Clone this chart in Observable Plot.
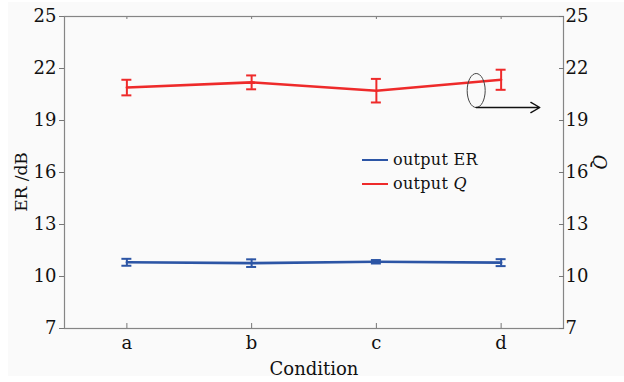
<!DOCTYPE html>
<html><head><meta charset="utf-8">
<script src="https://cdn.jsdelivr.net/npm/d3@7"></script>
<script src="https://cdn.jsdelivr.net/npm/@observablehq/plot@0.6"></script>
<style>
body{margin:0;background:#fff}
#wrap{position:relative;width:624px;height:382px;font-family:"DejaVu Serif",serif;color:#111}
#wrap svg{display:block}
#legend{position:absolute;left:362px;top:148px;font-size:16px;line-height:24px;letter-spacing:0.3px}
#legend .row{display:flex;align-items:center}
#legend .sw{width:26px;height:2.5px;margin-right:5px}
.ylab{position:absolute;white-space:nowrap;transform:translate(-50%,-50%) rotate(-90deg)}
.ylab.right{transform:translate(-50%,-50%) rotate(90deg);font-style:italic}
</style>
</head><body>
<div id="wrap"><div id="chart"></div>
<div class="ylab" style="left:21px;top:182px;font-size:17px">ER /dB</div>
<div class="ylab right" style="left:599px;top:162px;font-size:18px">Q</div>
<div id="legend">
<div class="row"><span class="sw" style="background:#2c55a5"></span><span>output ER</span></div>
<div class="row"><span class="sw" style="background:#ee2a2a"></span><span>output <i>Q</i></span></div>
</div></div>
<script>
const conditions = ["a", "b", "c", "d"];
const erValues = [10.82, 10.77, 10.85, 10.80];
const erErrors = [0.20, 0.22, 0.10, 0.20];
const qValues = [20.90, 21.20, 20.72, 21.35];
const qErrors = [0.45, 0.40, 0.68, 0.58];
const yTicks = [7, 10, 13, 16, 19, 22, 25];
const seriesNames = ["output ER", "output Q"];
const seriesColors = ["#2c55a5", "#ee2a2a"];
// annotation (ellipse around Q line, arrow to right axis), in data units
const ellipseAt = [{x: 3.8, y: 20.73}];
const arrowAt = [{x1: 3.8, x2: 4.31, y: 19.75}];

const rows = [];
conditions.forEach((c, k) => {
  rows.push({i: k + 1, cond: c, value: erValues[k], err: erErrors[k], series: seriesNames[0]});
  rows.push({i: k + 1, cond: c, value: qValues[k], err: qErrors[k], series: seriesNames[1]});
});

const capHalf = 0.04;
const ellipseSymbol = {
  draw(ctx) {
    const rx = 9, ry = 17, k = 0.5523;
    ctx.moveTo(rx, 0);
    ctx.bezierCurveTo(rx, ry * k, rx * k, ry, 0, ry);
    ctx.bezierCurveTo(-rx * k, ry, -rx, ry * k, -rx, 0);
    ctx.bezierCurveTo(-rx, -ry * k, -rx * k, -ry, 0, -ry);
    ctx.bezierCurveTo(rx * k, -ry, rx, -ry * k, rx, 0);
    ctx.closePath();
  }
};

const chart = Plot.plot({
  width: 624,
  height: 382,
  marginLeft: 64,
  marginRight: 61,
  marginTop: 16,
  marginBottom: 54,
  style: {
    fontFamily: "DejaVu Serif",
    fontSize: "18px",
    color: "#111",
    background: "linear-gradient(to right, #fff 0 8px, transparent 8px), linear-gradient(to top, #fff 0 6px, transparent 6px), linear-gradient(to bottom, #fff 0 2px, transparent 2px), #fafafa"
  },
  x: {type: "linear", domain: [0.5, 4.5]},
  y: {domain: [7, 25]},
  color: {domain: seriesNames, range: seriesColors},
  marks: [
    Plot.frame({stroke: "#858585", strokeWidth: 1.2}),
    Plot.axisY({anchor: "left", ticks: yTicks, tickSize: 5, tickPadding: 3, label: null, fontSize: 18, stroke: "#777"}),
    Plot.axisY({anchor: "right", ticks: yTicks, tickSize: -5, tickPadding: 7, label: null, fontSize: 18, stroke: "#777"}),
    Plot.axisX({anchor: "bottom", ticks: [1, 2, 3, 4], tickFormat: d => conditions[d - 1], tickSize: -5, tickPadding: 13, label: null, fontSize: 18, stroke: "#777"}),
    Plot.axisX({anchor: "top", ticks: [1, 2, 3, 4], tickFormat: () => "", tickSize: -2, label: null, stroke: "#777"}),
    Plot.line(rows, {x: "i", y: "value", z: "series", stroke: "series", strokeWidth: 2.6}),
    Plot.ruleX(rows, {x: "i", y1: d => d.value - d.err, y2: d => d.value + d.err, stroke: "series", strokeWidth: 2}),
    Plot.ruleY(rows, {y: d => d.value - d.err, x1: d => d.i - capHalf, x2: d => d.i + capHalf, stroke: "series", strokeWidth: 2}),
    Plot.ruleY(rows, {y: d => d.value + d.err, x1: d => d.i - capHalf, x2: d => d.i + capHalf, stroke: "series", strokeWidth: 2}),
    Plot.dot(ellipseAt, {x: "x", y: "y", symbol: ellipseSymbol, stroke: "#444", strokeWidth: 1, fill: "none"}),
    Plot.arrow(arrowAt, {x1: "x1", x2: "x2", y1: "y", y2: "y", bend: 0, headLength: 11, stroke: "#111", strokeWidth: 1.4}),
    Plot.text(["Condition"], {frameAnchor: "bottom", dy: 46, fontSize: 18, fill: "#111"})
  ]
});
document.getElementById("chart").append(chart);
</script>
</body></html>
